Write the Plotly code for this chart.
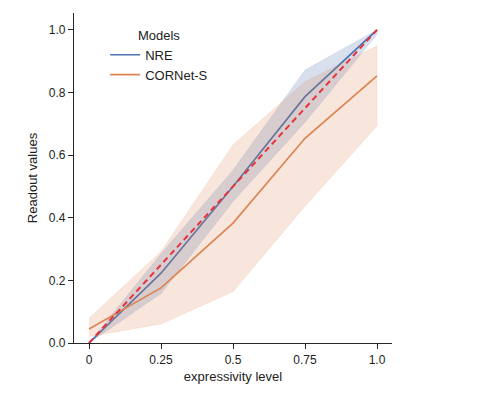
import plotly.graph_objects as go

levels = [0, 0.25, 0.5, 0.75, 1.0]

nre_mean = [0.0, 0.223, 0.50, 0.787, 1.0]
nre_lower = [0.0, 0.158, 0.452, 0.705, 0.985]
nre_upper = [0.0, 0.285, 0.552, 0.872, 1.0]

cornet_mean = [0.045, 0.176, 0.383, 0.654, 0.853]
cornet_lower = [0.020, 0.061, 0.164, 0.437, 0.693]
cornet_upper = [0.079, 0.292, 0.633, 0.835, 0.949]

identity_x = [0, 1.0]
identity_y = [0, 1.0]

x_ticks = [0, 0.25, 0.5, 0.75, 1.0]
x_labels = ["0", "0.25", "0.5", "0.75", "1.0"]
y_ticks = [0.0, 0.2, 0.4, 0.6, 0.8, 1.0]
y_labels = ["0.0", "0.2", "0.4", "0.6", "0.8", "1.0"]

BLUE = "#4C72B0"
ORANGE = "#DD8452"
FONT = "Arial, Liberation Sans, sans-serif"
AXC = "#262626"

fig = go.Figure()


def add_model(name, mean, lo, hi, color, fill):
    fig.add_trace(go.Scatter(
        x=levels + levels[::-1], y=hi + lo[::-1], fill="toself",
        fillcolor=fill, line=dict(width=0.6, color=fill), mode="lines",
        showlegend=False, hoverinfo="skip"))
    fig.add_trace(go.Scatter(
        x=levels, y=mean, mode="lines", name=name,
        line=dict(color=color, width=1.7)))


add_model("NRE", nre_mean, nre_lower, nre_upper, BLUE, "rgba(76,114,176,0.22)")
add_model("CORNet-S", cornet_mean, cornet_lower, cornet_upper, ORANGE, "rgba(221,132,82,0.2)")

fig.add_trace(go.Scatter(
    x=identity_x, y=identity_y, mode="lines", showlegend=False,
    line=dict(color="#E8333A", width=2, dash="6px,4px")))

fig.update_layout(
    width=499, height=397,
    margin=dict(l=66, r=115, t=5, b=62),
    paper_bgcolor="white", plot_bgcolor="white",
    font=dict(family=FONT, size=12, color="#222"),
    legend=dict(
        x=0.098, y=0.97, xanchor="left", yanchor="top",
        bgcolor="rgba(0,0,0,0)",
        title=dict(text="Models", side="top center", font=dict(size=13)),
        font=dict(size=13), tracegroupgap=0, itemwidth=30,
    ),
    xaxis=dict(
        range=[-0.0521, 1.0521], tickvals=x_ticks, ticktext=x_labels,
        showgrid=False, zeroline=False, showline=True, linecolor=AXC,
        linewidth=1.2, ticks="outside", ticklen=5, tickwidth=1.2,
        tickcolor=AXC, tickfont=dict(size=12),
        title=dict(text="expressivity level", font=dict(size=13), standoff=6),
    ),
    yaxis=dict(
        range=[0, 1.054], tickvals=y_ticks, ticktext=y_labels,
        showgrid=False, zeroline=False, showline=True, linecolor=AXC,
        linewidth=1.2, ticks="outside", ticklen=5, tickwidth=1.2,
        tickcolor=AXC, tickfont=dict(size=12),
        title=dict(text="Readout values", font=dict(size=13), standoff=8),
    ),
)

fig.write_html("out.html")
